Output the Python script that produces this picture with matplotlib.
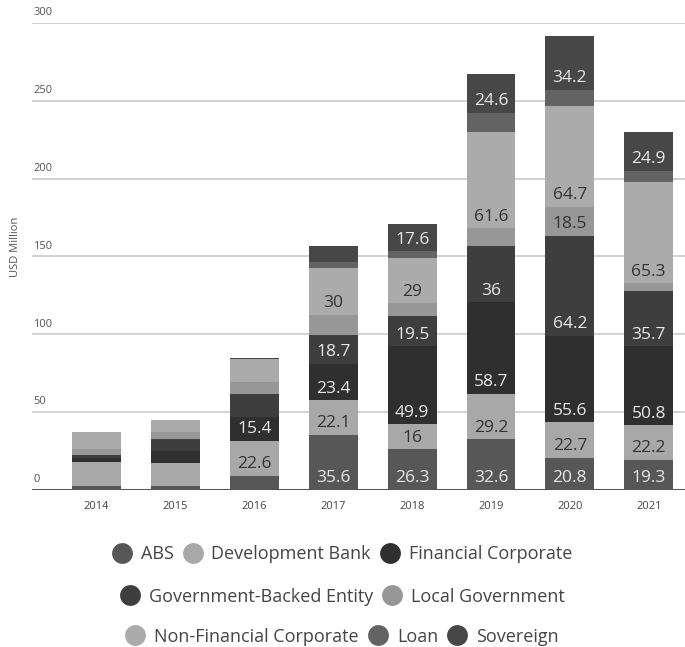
import matplotlib
matplotlib.use("Agg")
import matplotlib.pyplot as plt
from matplotlib.lines import Line2D
from matplotlib.transforms import blended_transform_factory
import numpy as np

plt.rcParams['font.family'] = ['Open Sans', 'DejaVu Sans']

years = ["2014", "2015", "2016", "2017", "2018", "2019", "2020", "2021"]

series_names = ["ABS", "Development Bank", "Financial Corporate",
                "Government-Backed Entity", "Local Government",
                "Non-Financial Corporate", "Loan", "Sovereign"]

abs_vals        = [2.6, 2.6, 9.0, 35.6, 26.3, 32.6, 20.8, 19.3]
dev_bank        = [15.2, 15.0, 22.6, 22.1, 16.0, 29.2, 22.7, 22.2]
financial_corp  = [2.5, 7.7, 15.4, 23.4, 49.9, 58.7, 55.6, 50.8]
gov_backed      = [2.2, 7.3, 14.6, 18.7, 19.5, 36.0, 64.2, 35.7]
local_gov       = [3.7, 4.9, 7.5, 12.8, 8.3, 11.6, 18.5, 4.7]
non_fin_corp    = [11.3, 7.5, 15.2, 30.0, 29.0, 61.6, 64.7, 65.3]
loan            = [0.0, 0.0, 0.0, 3.7, 4.4, 12.6, 10.7, 6.9]
sovereign       = [0.0, 0.0, 0.6, 10.3, 17.6, 24.6, 34.2, 24.9]

series_values = [abs_vals, dev_bank, financial_corp, gov_backed,
                 local_gov, non_fin_corp, loan, sovereign]

bar_colors = ["#575757", "#a8a8a8", "#2f2f2f", "#3e3e3e",
              "#979797", "#ababab", "#636363", "#474747"]
label_colors = ["#e8e8e8", "#333333", "#e8e8e8", "#e8e8e8",
                "#333333", "#333333", "#e8e8e8", "#e8e8e8"]

y_ticks = [0, 50, 100, 150, 200, 250, 300]

fig = plt.figure(figsize=(6.85, 6.47), dpi=100)
ax = fig.add_axes([0.0467, 0.2427, 0.9533, 0.7218])

x = np.arange(len(years))
bottom = np.zeros(len(years))
bar_w = 0.62
for name, vals, col, lcol in zip(series_names, series_values, bar_colors, label_colors):
    vals = np.array(vals)
    ax.bar(x, vals, bar_w, bottom=bottom, color=col, edgecolor="none", zorder=3)
    # value labels sit just above the base of each segment
    for xi, v, b in zip(x, vals, bottom):
        if v >= 15.3:
            ax.annotate(f"{v:g}", xy=(xi, b), xytext=(0, 8.3),
                        textcoords="offset points", ha="center", va="center",
                        fontsize=12.5, color=lcol, zorder=4)
    bottom += vals

ax.set_xlim(-0.82, 7.46)
ax.set_ylim(0, 300)

# horizontal gridlines with labels sitting above them on the left
trans = blended_transform_factory(ax.transAxes, ax.transData)
for t in y_ticks:
    if t == 0:
        ax.axhline(t, color="#555555", lw=2.2, zorder=5)
    else:
        ax.axhline(t, color="#d2d2d2", lw=1.4, zorder=1)
    ax.text(0.002, t + 3, str(t), transform=trans, ha="left", va="bottom",
            fontsize=8, color="#555555")

for s in ax.spines.values():
    s.set_visible(False)
ax.set_yticks([])
ax.set_xticks(x)
ax.set_xticklabels(years, fontsize=8, color="#444444")
ax.tick_params(axis="x", length=0, pad=8)

fig.text(0.022, 0.618, "USD Million", rotation=90, ha="center", va="center",
         fontsize=8, color="#555555")

# legend in three centered rows
rows = [[0, 1, 2], [3, 4], [5, 6, 7]]
row_y = [0.143, 0.078, 0.016]
for idx, yy in zip(rows, row_y):
    handles = [Line2D([], [], linestyle="none", marker="o", markersize=15,
                      markerfacecolor=bar_colors[i], markeredgecolor="none")
               for i in idx]
    labels = [series_names[i] for i in idx]
    fig.legend(handles, labels, loc="center", bbox_to_anchor=(0.5, yy),
               ncol=len(idx), frameon=False, fontsize=13,
               handlelength=1.0, handletextpad=0.55, columnspacing=0.55,
               labelcolor="#444444")

fig.savefig("out.png", dpi=100)
